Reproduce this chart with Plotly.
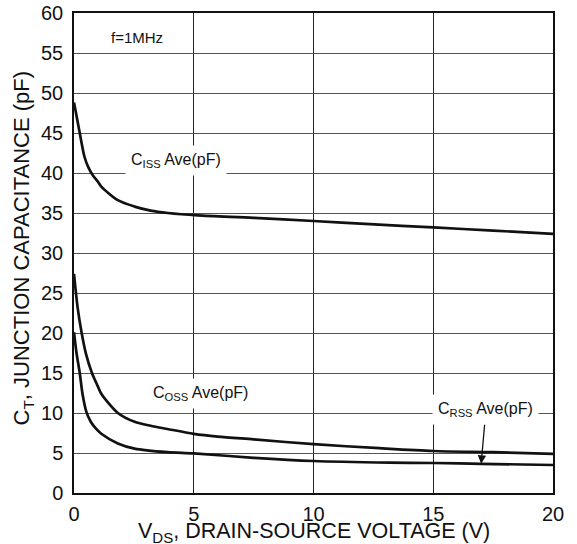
import plotly.graph_objects as go

# Drain-source voltage samples (V) and capacitance readings (pF), f = 1 MHz
v_ciss = [0, 0.24, 0.44, 0.6, 0.79, 1.0, 1.14, 1.83, 2.53, 3.2, 3.92, 5.17, 7.5, 10, 12.35, 15, 17.5, 20]
c_ciss = [48.8, 45.0, 42.0, 40.7, 39.7, 38.9, 38.3, 36.6, 35.8, 35.3, 35.0, 34.7, 34.4, 34.0, 33.6, 33.2, 32.8, 32.4]

v_coss = [0, 0.15, 0.32, 0.5, 0.75, 1.0, 1.14, 1.83, 2.53, 3.2, 3.9, 5.0, 6.0, 7.5, 10, 12.75, 15, 17.5, 20]
c_coss = [27.4, 23.2, 20.0, 17.4, 15.0, 13.3, 12.4, 10.0, 8.9, 8.4, 8.0, 7.4, 7.05, 6.7, 6.1, 5.6, 5.25, 5.1, 4.9]

v_crss = [0, 0.1, 0.24, 0.36, 0.51, 0.7, 0.9, 1.14, 1.83, 2.53, 3.9, 5.0, 7.5, 10, 13.2, 15, 17, 20]
c_crss = [20.1, 17.6, 15.0, 12.3, 10.2, 8.9, 8.1, 7.4, 6.2, 5.55, 5.1, 4.95, 4.4, 4.0, 3.8, 3.75, 3.65, 3.5]

x_ticks = [0, 5, 10, 15, 20]
y_ticks = [0, 5, 10, 15, 20, 25, 30, 35, 40, 45, 50, 55, 60]

FONT = "Liberation Sans, Arial, Helvetica, sans-serif"
INK = "#111111"

fig = go.Figure()
for vx, cy in [(v_ciss, c_ciss), (v_coss, c_coss), (v_crss, c_crss)]:
    fig.add_trace(go.Scatter(
        x=vx, y=cy, mode="lines",
        line=dict(color=INK, width=2.7, shape="spline", smoothing=0.8),
        showlegend=False, hoverinfo="skip",
    ))

label_font = dict(family=FONT, size=16, color=INK)

fig.add_annotation(x=2.63, y=56.9, text="f=1MHz", showarrow=False,
                   font=dict(family=FONT, size=15, color=INK))
fig.add_annotation(x=4.25, y=41.6, text="C<sub>ISS</sub> Ave(pF)", showarrow=False,
                   font=label_font, bgcolor="white", borderpad=5)
fig.add_annotation(x=5.3, y=12.5, text="C<sub>OSS</sub> Ave(pF)", showarrow=False,
                   font=label_font, bgcolor="white", borderpad=5)
fig.add_annotation(x=17.0, y=3.65, ax=17.2, ay=10.4, axref="x", ayref="y",
                   text="C<sub>RSS</sub> Ave(pF)", showarrow=True,
                   arrowhead=2, arrowsize=1.3, arrowwidth=1.3, arrowcolor=INK,
                   font=label_font, bgcolor="white", borderpad=5)

# Axis titles
fig.add_annotation(xref="paper", yref="paper", x=0.502, y=-0.083,
                   xanchor="center", yanchor="middle",
                   text="V<sub>DS</sub>, DRAIN-SOURCE VOLTAGE (V)", showarrow=False,
                   font=dict(family=FONT, size=21.5, color=INK))
fig.add_annotation(xref="paper", yref="paper", x=-0.106, y=0.51, textangle=-90,
                   xanchor="center", yanchor="middle",
                   text="C<sub>T</sub>, JUNCTION CAPACITANCE (pF)", showarrow=False,
                   font=dict(family=FONT, size=22, color=INK))

fig.update_xaxes(
    range=[0, 20], tickvals=x_ticks, ticktext=[str(t) for t in x_ticks],
    showgrid=True, gridcolor="#222222", gridwidth=1,
    showline=True, mirror=True, linecolor=INK, linewidth=1.5,
    zeroline=False, ticks="", ticklabelstandoff=2, automargin=False,
    tickfont=dict(family=FONT, size=20, color=INK),
)
fig.update_yaxes(
    range=[0, 60], tickvals=y_ticks, ticktext=[str(t) for t in y_ticks],
    showgrid=True, gridcolor="#555555", gridwidth=1.2,
    showline=True, mirror=True, linecolor=INK, linewidth=1.5,
    zeroline=False, ticks="", ticklabelstandoff=5, automargin=False,
    tickfont=dict(family=FONT, size=20, color=INK),
)

fig.update_layout(
    width=577, height=544,
    margin=dict(l=74, r=24, t=13, b=51),
    paper_bgcolor="white", plot_bgcolor="white",
    font=dict(family=FONT, color=INK),
)

fig.write_html("out.html")
